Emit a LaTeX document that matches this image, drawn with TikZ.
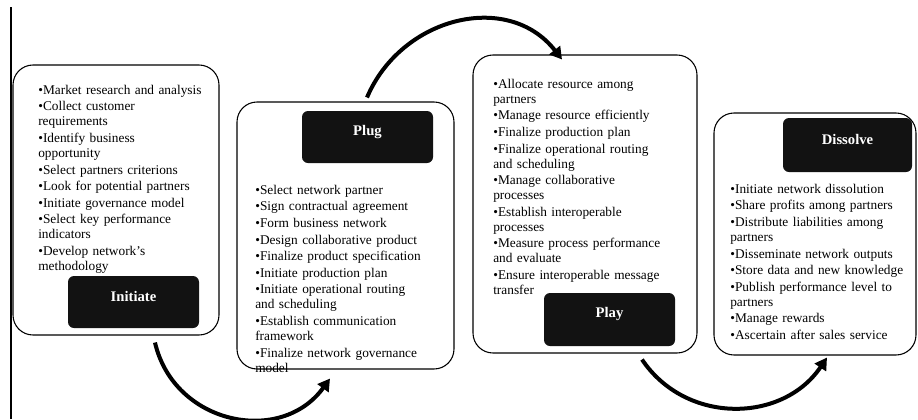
\documentclass[tikz,border=0pt]{standalone}
\usepackage{fontspec}
\setmainfont{Liberation Serif}
\usetikzlibrary{arrows.meta,fit}

% one bullet item, continuation lines hang under the text
\newcommand\itm{\par\hangindent=2.5pt\hangafter=1\noindent\strut\makebox[3.6pt][l]{\textbullet}}

\begin{document}
\begin{tikzpicture}[x=0.75pt,y=-0.75pt,
    stage/.style={draw, line width=0.8pt, rounded corners=15pt, inner sep=0pt},
    tag/.style={fill=black!93, rounded corners=4.5pt, inner sep=0pt, text=white,
                font=\fontsize{11}{13}\selectfont\bfseries},
    items/.style={anchor=north west, inner sep=0pt, text width=150pt, align=left,
                  font=\fontsize{10}{11.25}\selectfont\setlength{\parskip}{1.2pt}},
    flow/.style={line width=3pt, -{Triangle[length=9pt,width=10pt]}}]

    \useasboundingbox (0,0) rectangle (918,419);

    \draw [line width=0.9pt] (11,7) -- (11,419);

    % the four stages
    \node[stage, fit={(13,65) (219,335)}] (initbox) {};
    \node[stage, fit={(237,102) (454,369)}] (plugbox) {};
    \node[stage, fit={(473,55) (697,353)}] (playbox) {};
    \node[stage, fit={(714,113) (916,355)}] (dissbox) {};

    \node[tag, fit={(68,276) (199,328)}] (inittag) {Initiate};
    \node[tag, fit={(302,111) (433,163)}] (plugtag) {Plug};
    \node[tag, fit={(544,293) (675,346)}] (playtag) {Play};
    \node[tag, fit={(783,118) (912,172)}] (disstag) {Dissolve};

    \node[items] (inittext) at (38,77.5) {%
        \itm Market research and analysis
        \itm Collect customer\\requirements
        \itm Identify business\\opportunity
        \itm Select partners criterions
        \itm Look for potential partners
        \itm Initiate governance model
        \itm Select key performance\\indicators
        \itm Develop network’s\\methodology};

    \node[items] (plugtext) at (255,177.5) {%
        \itm Select network partner
        \itm Sign contractual agreement
        \itm Form business network
        \itm Design collaborative product
        \itm Finalize product specification
        \itm Initiate production plan
        \itm Initiate operational routing\\and scheduling
        \itm Establish communication\\framework
        \itm Finalize network governance\\model};

    \node[items] (playtext) at (493,71.5) {%
        \itm Allocate resource among\\partners
        \itm Manage resource efficiently
        \itm Finalize production plan
        \itm Finalize operational routing\\and scheduling
        \itm Manage collaborative\\processes
        \itm Establish interoperable\\processes
        \itm Measure process performance\\and evaluate
        \itm Ensure interoperable message\\transfer};

    \node[items] (disstext) at (730,176.5) {%
        \itm Initiate network dissolution
        \itm Share profits among partners
        \itm Distribute liabilities among\\partners
        \itm Disseminate network outputs
        \itm Store data and new knowledge
        \itm Publish performance level to\\partners
        \itm Manage rewards
        \itm Ascertain after sales service};

    % arrows between stages
    \draw[flow] ([shift={(39,7)}]initbox.south) to[out=-77,in=-126,looseness=1.2] ([shift={(-15.5,9)}]plugbox.south);
    \draw[flow] ([shift={(21.5,-4)}]plugbox.north) to[out=67,in=128,looseness=1.13] ([shift={(-23,5)}]playbox.north);
    \draw[flow] ([shift={(57,6)}]playbox.south) to[out=-56,in=-124,looseness=1.09] ([shift={(12,2)}]dissbox.south);

\end{tikzpicture}
\end{document}
